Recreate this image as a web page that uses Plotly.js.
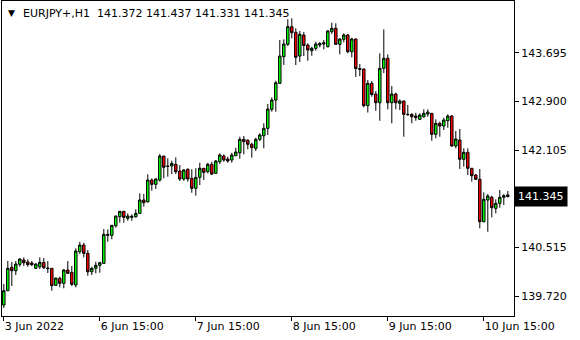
<!DOCTYPE html>
<html>
<head>
<meta charset="utf-8">
<script src="https://cdn.plot.ly/plotly-3.0.1.min.js"></script>
<style>html,body{margin:0;padding:0;background:#fff;}#chart{width:580px;height:340px;}</style>
</head>
<body>
<div id="chart"></div>
<script>
const symbolTitle = 'EURJPY+,H1';
const lastBar = ['141.372', '141.437', '141.331', '141.345'];
const tickBars = [0, 24, 48, 72, 96, 120];
const tickLabels = ['3 Jun 2022', '6 Jun 15:00', '7 Jun 15:00', '8 Jun 15:00', '9 Jun 15:00', '10 Jun 15:00'];
const priceTicks = [139.720, 140.515, 142.105, 142.900, 143.695];
const priceTickLabels = ['139.720', '140.515', '142.105', '142.900', '143.695'];
const currentPrice = 141.345;

const open = [139.573,139.807,140.189,140.134,140.238,140.308,140.276,140.259,140.173,140.199,
140.271,140.178,140.173,139.895,140.009,139.928,140.145,140.107,139.900,140.444,
140.553,140.418,140.117,140.173,140.222,140.254,140.728,140.712,140.869,141.016,
141.104,140.990,141.006,141.016,141.071,141.289,141.261,141.615,141.545,141.615,
142.007,141.844,141.844,141.872,141.762,141.632,141.790,141.643,141.480,141.659,
141.807,141.751,141.872,141.725,141.914,142.007,141.958,141.942,142.012,142.061,
142.280,142.264,142.199,142.133,142.280,142.339,142.460,142.770,142.922,143.195,
143.630,143.832,144.120,144.028,143.641,143.984,143.821,143.728,143.767,143.821,
143.837,143.793,144.038,144.094,143.832,143.914,143.984,143.711,143.919,143.437,
143.429,142.832,143.195,143.020,142.878,143.440,143.604,142.878,143.020,142.868,
142.906,142.689,142.689,142.661,142.607,142.649,142.694,142.705,142.362,142.542,
142.498,142.584,142.661,142.171,142.269,141.954,142.068,141.807,141.697,141.627,
140.934,141.289,141.333,141.153,141.235,141.333,141.372];
const high = [139.916,140.292,140.276,140.292,140.336,140.352,140.320,140.292,140.254,140.352,
140.341,140.292,140.178,140.018,140.036,140.161,140.292,140.210,140.500,140.607,
140.591,140.472,140.199,140.281,140.281,140.815,140.810,140.880,141.032,141.108,
141.108,141.071,141.055,141.137,141.398,141.387,141.708,141.643,141.643,142.040,
142.012,141.970,141.931,141.986,141.860,141.795,141.807,141.790,141.807,141.898,
141.812,141.898,141.914,141.942,142.052,142.035,141.996,142.061,142.143,142.323,
142.334,142.280,142.225,142.306,142.378,142.542,142.857,142.966,143.238,143.903,
143.914,144.241,144.257,144.094,144.050,144.033,143.849,143.793,143.875,143.870,
143.903,144.066,144.185,144.175,143.930,144.012,144.001,143.940,143.927,143.510,
143.437,143.249,143.233,143.069,143.685,144.077,143.669,143.151,143.042,142.934,
142.914,142.841,142.705,142.715,142.705,142.770,142.770,142.711,142.607,142.568,
142.633,142.689,142.677,142.416,142.449,142.133,142.133,141.811,141.713,141.795,
141.414,141.387,141.359,141.300,141.452,141.387,141.437];
const low = [139.524,139.802,139.884,140.063,140.199,140.210,140.199,140.210,140.161,140.161,
140.161,140.096,139.807,139.889,139.862,139.846,140.088,139.884,139.862,140.406,
140.352,140.052,140.063,140.091,140.101,140.243,140.607,140.647,140.836,140.918,
140.918,140.950,140.950,140.999,141.060,141.179,141.245,141.441,141.468,141.588,
141.643,141.669,141.713,141.713,141.599,141.604,141.588,141.408,141.359,141.534,
141.615,141.725,141.697,141.720,141.877,141.914,141.898,141.898,142.008,141.963,
142.035,142.117,141.980,142.089,142.252,142.133,142.351,142.731,142.731,143.184,
143.494,143.805,143.930,143.494,143.543,143.641,143.564,143.646,143.728,143.783,
143.751,143.783,144.001,143.825,143.669,143.865,143.685,143.620,143.298,143.314,
142.803,142.718,142.976,142.747,142.584,143.363,142.770,142.542,142.770,142.759,
142.323,142.666,142.542,142.584,142.596,142.633,142.649,142.257,142.297,142.323,
142.432,142.470,142.159,142.133,141.795,141.833,141.697,141.588,141.615,140.826,
140.924,140.771,141.006,141.071,141.163,141.207,141.331];
const close = [139.807,140.173,140.134,140.243,140.325,140.264,140.232,140.232,140.243,140.271,
140.183,140.168,139.889,140.014,139.928,140.145,140.091,139.911,140.455,140.553,
140.418,140.117,140.173,140.222,140.264,140.728,140.712,140.875,141.027,141.104,
141.006,141.027,141.022,141.071,141.289,141.245,141.615,141.545,141.632,142.007,
141.823,141.839,141.888,141.751,141.632,141.779,141.632,141.480,141.659,141.807,
141.741,141.872,141.713,141.926,142.024,141.942,141.926,142.024,142.073,142.280,
142.241,142.199,142.143,142.280,142.351,142.460,142.775,142.922,143.205,143.641,
143.837,144.120,144.022,143.620,143.996,143.813,143.739,143.767,143.837,143.845,
143.858,144.050,144.094,143.832,143.919,143.984,143.711,143.919,143.437,143.424,
142.829,143.195,143.012,142.878,143.440,143.604,142.878,143.020,142.878,142.906,
142.689,142.684,142.649,142.633,142.677,142.705,142.726,142.362,142.542,142.498,
142.596,142.661,142.171,142.285,141.954,142.068,141.807,141.686,141.627,140.934,
141.300,141.354,141.163,141.235,141.333,141.359,141.345];

const barIndex = open.map((_, i) => i);
const FONT = 'Tahoma, "DejaVu Sans", sans-serif';

const trace = {
  type: 'candlestick',
  x: barIndex, open: open, high: high, low: low, close: close,
  increasing: {line: {color: '#000000', width: 1}, fillcolor: '#00FF00'},
  decreasing: {line: {color: '#000000', width: 1}, fillcolor: '#FF0000'},
  whiskerwidth: 0,
  hoverinfo: 'skip',
  showlegend: false
};

const layout = {
  width: 580, height: 340,
  margin: {l: 2, r: 66, t: 1, b: 24, pad: 0},
  paper_bgcolor: '#ffffff', plot_bgcolor: '#ffffff',
  font: {family: FONT, size: 11, color: '#000000'},
  showlegend: false,
  boxgap: 0.12,
  xaxis: {
    type: 'linear', range: [-0.45, 127.55], fixedrange: true,
    rangeslider: {visible: false},
    tickmode: 'array', tickvals: tickBars, ticktext: tickLabels,
    ticks: 'outside', ticklen: 4, tickcolor: '#000', tickwidth: 1,
    ticklabelposition: 'outside right',
    showgrid: false, zeroline: false,
    showline: true, linecolor: '#000', linewidth: 1, mirror: true,
    tickfont: {family: FONT, size: 11, color: '#000'}
  },
  yaxis: {
    side: 'right', range: [139.394, 144.540], fixedrange: true,
    tickmode: 'array', tickvals: priceTicks, ticktext: priceTickLabels,
    ticks: 'outside', ticklen: 4, tickcolor: '#000', tickwidth: 1,
    showgrid: false, zeroline: false,
    showline: true, linecolor: '#000', linewidth: 1, mirror: true,
    tickfont: {family: FONT, size: 11, color: '#000'}
  },
  annotations: [
    {xref: 'paper', yref: 'paper', x: 0, y: 1, xanchor: 'left', yanchor: 'top',
     xshift: 4, yshift: -5, text: '▼', showarrow: false,
     font: {family: FONT, size: 9, color: '#000'}},
    {xref: 'paper', yref: 'paper', x: 0, y: 1, xanchor: 'left', yanchor: 'top',
     xshift: 19, yshift: -4, showarrow: false,
     text: symbolTitle + '\u00A0\u00A0' + lastBar.join(' '),
     font: {family: FONT, size: 11, color: '#000'}},
    {xref: 'paper', yref: 'y', x: 1, y: currentPrice, xanchor: 'left', yanchor: 'middle',
     xshift: 0, text: currentPrice.toFixed(3), showarrow: false,
     bgcolor: '#000000', borderpad: 3,
     font: {family: FONT, size: 11, color: '#ffffff'}}
  ]
};

Plotly.newPlot('chart', [trace], layout, {displayModeBar: false, staticPlot: true});
</script>
</body>
</html>
